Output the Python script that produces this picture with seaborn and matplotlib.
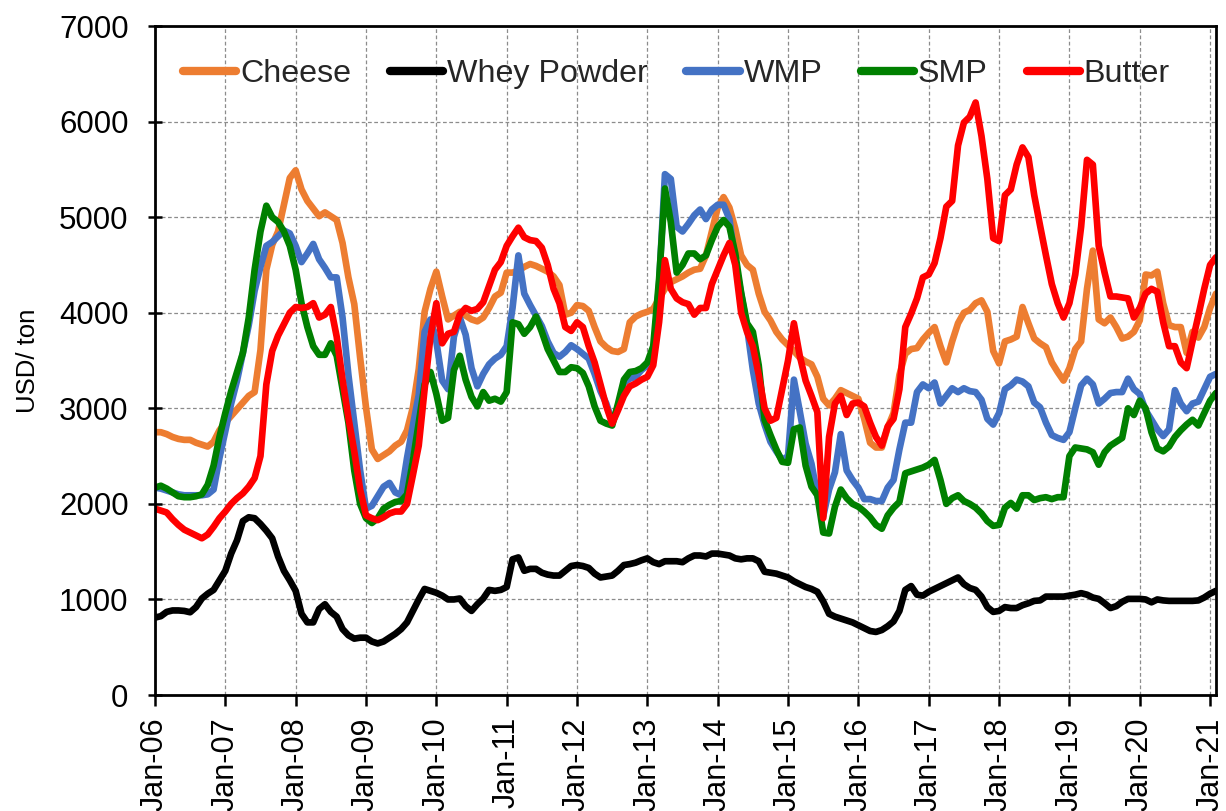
import matplotlib
matplotlib.use("Agg")
import matplotlib.pyplot as plt
from matplotlib.lines import Line2D
import numpy as np
import pandas as pd
import seaborn as sns

# Monthly export prices, USD per ton, Jan-2006 .. Feb-2021
cheese = [
    2750, 2750, 2730, 2700, 2680, 2670, 2670, 2640, 2620, 2600, 2650, 2770,
    2850, 2920, 2990, 3060, 3130, 3170, 3610, 4450, 4710, 4850, 5130, 5410,
    5490, 5290, 5170, 5090, 5010, 5050, 5010, 4970, 4730, 4370, 4090, 3530,
    3010, 2570, 2470, 2510, 2550, 2610, 2650, 2770, 3010, 3410, 4010, 4250,
    4430, 4170, 3930, 3970, 4010, 3970, 3930, 3910, 3950, 4050, 4170, 4210,
    4420, 4420, 4440, 4480, 4510, 4490, 4460, 4430, 4380, 4290, 3980, 4000,
    4080, 4070, 4020, 3850, 3700, 3640, 3600, 3590, 3620, 3900, 3960, 3990,
    4010, 4040, 4150, 4250, 4320, 4350, 4380, 4420, 4450, 4460, 4600, 4850,
    5100, 5210, 5100, 4880, 4600, 4500, 4450, 4200, 4010, 3920, 3800, 3720,
    3660, 3600, 3530, 3490, 3460, 3330, 3100, 3030, 3100, 3190, 3160, 3130,
    3100, 2890, 2640, 2590, 2590, 2800, 2950, 3350, 3570, 3620, 3630, 3720,
    3790, 3850, 3650, 3480, 3700, 3890, 4000, 4030, 4100, 4130, 4010, 3600,
    3470, 3700, 3720, 3750, 4060, 3890, 3730, 3680, 3640, 3480, 3380, 3290,
    3420, 3620, 3700, 4250, 4650, 3930, 3890, 3950, 3850, 3730, 3750, 3800,
    3920, 4400, 4390, 4430, 4100, 3870, 3850, 3850, 3580, 3800, 3740, 3850,
    4050, 4200,
]
whey_powder = [
    810, 825, 870, 885, 885, 880, 866, 920, 1010, 1060, 1100, 1200,
    1300, 1480, 1620, 1820, 1860, 1850, 1790, 1720, 1640, 1450, 1300, 1200,
    1090, 850, 760, 760, 900, 950, 870, 820, 690, 625, 590, 600,
    600, 560, 540, 560, 600, 640, 690, 760, 880, 1000, 1110, 1090,
    1070, 1040, 1000, 1000, 1010, 930, 880, 950, 1010, 1100, 1090, 1100,
    1130, 1420, 1440, 1300, 1320, 1320, 1280, 1260, 1250, 1250, 1300, 1350,
    1360, 1350, 1330, 1270, 1230, 1240, 1250, 1300, 1360, 1370, 1385, 1410,
    1430, 1390, 1370, 1400, 1400, 1400, 1390, 1430, 1460, 1460, 1450, 1480,
    1480, 1470, 1460, 1430, 1420, 1430, 1430, 1400, 1290, 1280, 1270, 1250,
    1230, 1190, 1160, 1130, 1110, 1080, 980, 850, 820, 800, 780, 760,
    730, 700, 670, 660, 680, 720, 770, 880, 1100, 1140, 1050, 1040,
    1080, 1110, 1140, 1170, 1200, 1230, 1160, 1120, 1100, 1030, 920, 870,
    880, 920, 910, 910, 940, 960, 985, 990, 1030, 1030, 1030, 1030,
    1040, 1050, 1066, 1050, 1020, 1006, 960, 910, 930, 975, 1006, 1006,
    1006, 1000, 970, 1000, 990, 985, 985, 985, 985, 985, 990, 1020,
    1060, 1090,
]
wmp = [
    2170, 2160, 2140, 2120, 2100, 2090, 2090, 2090, 2090, 2100, 2150, 2480,
    2760, 3050, 3290, 3580, 3870, 4230, 4480, 4700, 4740, 4800, 4860, 4830,
    4700, 4530, 4620, 4720, 4560, 4470, 4370, 4370, 3950, 3350, 2850, 2350,
    1950, 1980, 2080, 2180, 2220, 2120, 2090, 2480, 2820, 3140, 3800, 3930,
    3700, 3290, 3200, 3750, 3950, 3770, 3420, 3230, 3360, 3460, 3520, 3560,
    3650, 4050, 4600, 4200, 4080, 3970, 3860, 3700, 3580, 3540, 3590, 3660,
    3620, 3570, 3520, 3360, 3180, 3050, 2860, 3000, 3270, 3310, 3330, 3400,
    3450, 3530, 4300, 5450, 5400, 4900, 4850, 4930, 5020, 5080, 4980, 5080,
    5130, 5130, 4980, 4530, 4200, 3850, 3400, 3050, 2830, 2650, 2550, 2460,
    2500, 3300, 2970, 2630, 2420, 2090, 1870, 2150, 2330, 2730, 2350, 2250,
    2170, 2050, 2050, 2030, 2030, 2170, 2250, 2570, 2850, 2850, 3170, 3250,
    3210, 3270, 3050, 3130, 3210, 3170, 3210, 3180, 3170, 3090, 2890, 2830,
    2950, 3200, 3240, 3300, 3280, 3230, 3060, 3010, 2850, 2720, 2690, 2670,
    2750, 3000, 3240, 3310, 3250, 3050, 3100, 3160, 3170, 3170, 3310, 3200,
    3150, 2980, 2880, 2780, 2710, 2780, 3190, 3050, 2970, 3050, 3070, 3200,
    3330, 3360,
]
smp = [
    2170, 2190, 2160, 2120, 2080, 2070, 2070, 2080, 2100, 2200, 2400, 2700,
    2950, 3180, 3380, 3580, 3950, 4450, 4850, 5120, 5000, 4950, 4850, 4700,
    4450, 4100, 3850, 3650, 3560, 3560, 3680, 3550, 3200, 2850, 2350, 2000,
    1850, 1800, 1850, 1950, 1990, 2020, 2030, 2100, 2450, 2850, 3250, 3380,
    3150, 2870, 2900, 3400, 3550, 3300, 3120, 3020, 3170, 3080, 3100, 3070,
    3170, 3900, 3880, 3780, 3850, 3960, 3800, 3620, 3500, 3380, 3380, 3430,
    3420, 3370, 3230, 3020, 2870, 2840, 2820, 3050, 3300, 3380, 3390, 3420,
    3480, 3650, 4350, 5300, 4950, 4420, 4500, 4620, 4620, 4560, 4600, 4760,
    4900, 4970, 4900, 4620, 4210, 3890, 3800, 3450, 2880, 2720, 2570, 2440,
    2430, 2780, 2800, 2400, 2180, 2090, 1700, 1690, 1970, 2150, 2060, 2000,
    1970, 1920, 1860, 1780, 1740, 1880, 1960, 2020, 2320, 2340, 2360, 2380,
    2410, 2460, 2250, 2000, 2060, 2090, 2030, 2000, 1960, 1900, 1820, 1770,
    1780, 1960, 2010, 1950, 2090, 2090, 2040, 2060, 2070, 2050, 2070, 2070,
    2500, 2590, 2580, 2570, 2540, 2410, 2540, 2610, 2650, 2690, 3000, 2930,
    3080, 3000, 2750, 2580, 2550, 2600, 2700, 2770, 2830, 2880, 2820, 2950,
    3080, 3160,
]
butter = [
    1950, 1930, 1910, 1840, 1780, 1730, 1700, 1670, 1640, 1680, 1760, 1850,
    1920, 2000, 2060, 2110, 2180, 2270, 2500, 3250, 3600, 3760, 3880, 4000,
    4060, 4050, 4060, 4100, 3950, 3980, 4060, 3750, 3300, 2900, 2550, 2150,
    1880, 1850, 1830, 1860, 1900, 1920, 1920, 2000, 2300, 2610, 3200, 3750,
    4100, 3680, 3780, 3800, 3980, 4050, 4020, 4040, 4110, 4280, 4450, 4530,
    4700, 4800, 4890, 4790, 4760, 4750, 4680, 4500, 4250, 4100, 3850, 3810,
    3900, 3850, 3650, 3480, 3250, 3020, 2840, 2980, 3130, 3230, 3260, 3300,
    3330, 3450, 3900, 4550, 4250, 4150, 4110, 4090, 3980, 4050, 4050, 4300,
    4450, 4600, 4730, 4500, 4000, 3800, 3650, 3350, 3000, 2870, 2900, 3200,
    3500, 3890, 3550, 3290, 3130, 2960, 1850, 2700, 3050, 3130, 2930, 3050,
    3060, 3020, 2850, 2700, 2610, 2810, 2890, 3200, 3850, 3990, 4150, 4370,
    4400, 4520, 4780, 5110, 5170, 5750, 5990, 6050, 6200, 5850, 5400, 4780,
    4750, 5230, 5290, 5550, 5730, 5630, 5230, 4910, 4600, 4300, 4100, 3950,
    4100, 4400, 4900, 5600, 5550, 4700, 4420, 4170, 4170, 4160, 4150, 3950,
    4050, 4200, 4250, 4220, 3900, 3650, 3650, 3480, 3420, 3700, 3970, 4250,
    4500, 4580,
]

products = ["Cheese", "Whey Powder", "WMP", "SMP", "Butter"]
colors = ["#ED7D31", "#000000", "#4472C4", "#008000", "#FF0000"]
tick_labels = ["Jan-06", "Jan-07", "Jan-08", "Jan-09", "Jan-10", "Jan-11",
               "Jan-12", "Jan-13", "Jan-14", "Jan-15", "Jan-16", "Jan-17",
               "Jan-18", "Jan-19", "Jan-20", "Jan-21"]
y_ticks = [0, 1000, 2000, 3000, 4000, 5000, 6000, 7000]

series = [cheese, whey_powder, wmp, smp, butter]
frames = []
for name, vals in zip(products, series):
    frames.append(pd.DataFrame({"month": np.arange(len(vals)),
                                "usd": vals, "product": name}))
df = pd.concat(frames, ignore_index=True)

sns.set_theme(style="white")
plt.rcParams["font.family"] = ["Liberation Sans", "DejaVu Sans"]

fig, ax = plt.subplots(figsize=(12.26, 8.11), dpi=100)
fig.subplots_adjust(left=0.1264, right=0.9918, top=0.9679, bottom=0.1430)

ax.set_axisbelow(True)
ax.grid(True, color="#8c8c8c", linestyle=(0, (3, 2)), linewidth=0.9)

sns.lineplot(data=df, x="month", y="usd", hue="product", hue_order=products,
             palette=colors, linewidth=4.8, estimator=None, errorbar=None,
             legend=False, ax=ax)

ax.set_xlim(0, 181)
ax.set_ylim(0, 7000)
ax.set_xticks(np.arange(len(tick_labels)) * 12)
ax.set_xticklabels(tick_labels, rotation=90, fontsize=22)
ax.set_yticks(y_ticks)
ax.set_yticklabels([str(v) for v in y_ticks], fontsize=22.5)
ax.set_xlabel("")
ax.set_ylabel("USD/ ton", fontsize=18.5, color="black")
ax.yaxis.set_label_coords(-0.108, 0.5)

for side in ["left", "bottom", "top", "right"]:
    ax.spines[side].set_visible(True)
    ax.spines[side].set_color("black")
    ax.spines[side].set_linewidth(2.0)

ax.tick_params(axis="y", direction="inout", length=10, width=1.8,
               pad=14, colors="black", left=True)
ax.tick_params(axis="x", direction="out", length=8, width=1.8,
               pad=8, colors="black", bottom=True)

handles = [Line2D([0], [0], color=c, linewidth=6, solid_capstyle="round")
           for c in colors]
ax.legend(handles, products, loc="center", bbox_to_anchor=(0.4915, 0.928),
          ncol=5, frameon=False, fontsize=23.2, handlelength=1.65,
          handletextpad=0.12, columnspacing=1.2)

fig.savefig("out.png", dpi=100)
